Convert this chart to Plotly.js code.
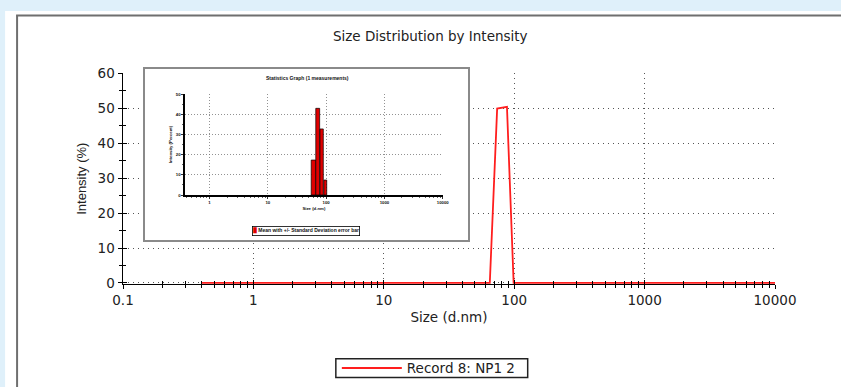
<!DOCTYPE html>
<html>
<head>
<meta charset="utf-8">
<script src="https://cdn.plot.ly/plotly-3.0.1.min.js"></script>
<style>
html,body{margin:0;padding:0;background:#dff0fa;}
#chart{width:841px;height:387px;}
</style>
</head>
<body>
<div id="chart"></div>
<script>
// ---- Main chart data (Size Distribution by Intensity) ----
const sizeNm = [0.4, 65, 74, 88, 99, 10000];
const intensityPct = [0, 0, 49.9, 50.4, 0, 0];
const seriesName = 'Record 8: NP1 2';

// ---- Inset statistics graph data ----
const statSizeNm = [61, 72, 84, 97];
const statIntensityPct = [17.3, 42.9, 32.7, 7.4];
const statLegendText = 'Mean with +/- Standard Deviation error bar';
const statTitle = 'Statistics Graph (1 measurements)';

// ---- geometry helpers (pixel -> paper) ----
const W = 841, H = 387, L = 123, R = 65.5, T = 69, B = 103;
const PW = W - L - R, PH = H - T - B;
const px = v => (v - L) / PW;
const py = v => (H - B - v) / PH;
const clamp = v => Math.max(0, Math.min(1, v));

const gridStyle = {showgrid: true, gridcolor: '#555', griddash: '1px,4px', gridwidth: 1};
const insetGrid = {showgrid: true, gridcolor: '#777', griddash: '1px,2px', gridwidth: 0.8};
const insetFont = {family: 'Liberation Sans, Arial, sans-serif', size: 4.3, color: '#111', weight: 'bold'};

const traces = [
  {
    type: 'scatter', mode: 'lines', name: seriesName,
    x: sizeNm, y: intensityPct, xaxis: 'x', yaxis: 'y',
    line: {color: '#ff1e1e', width: 1.8}
  },
  // overlay subplot carrying the inner halves of the crossing ticks
  {type: 'scatter', x: [], y: [], xaxis: 'x4', yaxis: 'y4', showlegend: false, hoverinfo: 'skip'},
  // inset frame subplot
  {type: 'scatter', x: [], y: [], xaxis: 'x2', yaxis: 'y2', showlegend: false, hoverinfo: 'skip'},
  {
    type: 'bar', name: statLegendText, x: statSizeNm, y: statIntensityPct,
    xaxis: 'x3', yaxis: 'y3', showlegend: false,
    marker: {color: '#e00000', line: {color: '#000', width: 0.7}}
  }
];

const layout = {
  width: W, height: H,
  margin: {l: L, r: R, t: T, b: B, pad: 0, autoexpand: false},
  paper_bgcolor: '#dff0fa', plot_bgcolor: '#ffffff',
  font: {family: 'DejaVu Sans, sans-serif', size: 13.5, color: '#222'},
  title: {
    text: 'Size Distribution by Intensity',
    font: {family: 'DejaVu Sans, sans-serif', size: 13.5, color: '#222'},
    xref: 'paper', x: px(430.5), xanchor: 'center',
    yref: 'container', y: 1 - 36 / H, yanchor: 'middle'
  },
  showlegend: true,
  legend: {
    x: px(337), xanchor: 'left', y: py(368.2), yanchor: 'middle',
    bgcolor: 'rgba(0,0,0,0)', borderwidth: 0,
    font: {family: 'DejaVu Sans, sans-serif', size: 13.5, color: '#222'},
    itemwidth: 60
  },
  bargap: 0,
  xaxis: Object.assign({
    type: 'log', range: [-1, 4], domain: [0, 1], anchor: 'y',
    showline: true, linecolor: '#000', linewidth: 1,
    ticks: 'outside', ticklen: 4, tickcolor: '#000', dtick: 1, tickformat: '~g',
    minor: {dtick: 'D1', ticks: 'outside', ticklen: 3, tickcolor: '#000', showgrid: false},
    zeroline: false, layer: 'below traces', ticklabelstandoff: 0,
    tickfont: {size: 13.5, color: '#222'},
    title: {text: 'Size (d.nm)', standoff: 5, font: {size: 13.5, color: '#222'}}
  }, gridStyle),
  yaxis: Object.assign({
    range: [-0.3, 60], domain: [0, clamp(py(73.3))], anchor: 'x',
    showline: true, linecolor: '#000', linewidth: 1.5,
    ticks: 'outside', ticklen: 4, tickcolor: '#000', tick0: 0, dtick: 10,
    minor: {tick0: 0, dtick: 5, ticks: 'outside', ticklen: 3, tickcolor: '#000', showgrid: false},
    zeroline: false,
    tickfont: {size: 13.5, color: '#222'},
    title: {text: 'Intensity (%)', standoff: 8, font: {family: 'Liberation Sans, Arial, sans-serif', size: 13, color: '#222'}}
  }, gridStyle),
  xaxis4: {
    type: 'log', overlaying: 'x', range: [-1, 4], anchor: 'y',
    ticks: 'inside', ticklen: 4, tickcolor: '#000', dtick: 1,
    minor: {dtick: 'D1', ticks: 'inside', ticklen: 3, tickcolor: '#000', showgrid: false},
    showticklabels: false, showgrid: false, zeroline: false, showline: false
  },
  yaxis4: {
    overlaying: 'y', range: [-0.3, 60], anchor: 'x', side: 'left',
    ticks: 'inside', ticklen: 4, tickcolor: '#000', tick0: 0, dtick: 10,
    minor: {tick0: 0, dtick: 5, ticks: 'inside', ticklen: 3, tickcolor: '#000', showgrid: false},
    showticklabels: false, showgrid: false, zeroline: false, showline: false
  },
  // inset frame
  xaxis2: {
    domain: [px(145), px(468)], range: [0, 1], anchor: 'y2',
    showline: true, mirror: true, linecolor: '#8a8a8a', linewidth: 2,
    showgrid: false, zeroline: false, showticklabels: false, ticks: ''
  },
  yaxis2: {
    domain: [clamp(py(240)), clamp(py(69))], range: [0, 1], anchor: 'x2',
    showline: true, mirror: true, linecolor: '#8a8a8a', linewidth: 2,
    showgrid: false, zeroline: false, showticklabels: false, ticks: ''
  },
  // inset plot
  xaxis3: Object.assign({
    type: 'log', domain: [px(185), px(443)], range: [Math.log10(0.38), 4], anchor: 'y3',
    showline: true, linecolor: '#000', linewidth: 1.5,
    ticks: 'outside', ticklen: 2, tickwidth: 0.8, tickcolor: '#000', dtick: 1, tickformat: '~g',
    minor: {dtick: 'D1', ticks: 'outside', ticklen: 1.5, tickwidth: 0.6, tickcolor: '#000', showgrid: false},
    zeroline: false, tickfont: insetFont,
    title: {text: 'Size (d.nm)', standoff: 3, font: insetFont}
  }, insetGrid),
  yaxis3: Object.assign({
    domain: [clamp(py(195)), clamp(py(94))], range: [0, 50], anchor: 'x3',
    showline: true, linecolor: '#000', linewidth: 1.5,
    ticks: 'outside', ticklen: 2, tickwidth: 0.8, tickcolor: '#000', dtick: 10,
    minor: {dtick: 5, ticks: 'outside', ticklen: 1.5, tickwidth: 0.6, tickcolor: '#000', showgrid: false},
    zeroline: false, tickfont: insetFont,
    title: {text: 'Intensity (Percent)', standoff: 3, font: insetFont}
  }, insetGrid),
  shapes: [
    {type: 'rect', xref: 'paper', yref: 'paper', layer: 'below',
     x0: px(5), x1: px(845), y0: py(390), y1: py(11),
     fillcolor: '#ffffff', line: {width: 0}},
    {type: 'line', xref: 'paper', yref: 'paper', layer: 'below',
     x0: px(16), x1: px(845), y0: py(15.5), y1: py(15.5),
     line: {color: '#6f6f6f', width: 2}},
    {type: 'line', xref: 'paper', yref: 'paper', layer: 'below',
     x0: px(17), x1: px(17), y0: py(15.5), y1: py(390),
     line: {color: '#6f6f6f', width: 2}},
    // frame around the legend
    {type: 'rect', xref: 'paper', yref: 'paper', layer: 'above',
     x0: px(336), x1: px(528), y0: py(377.5), y1: py(358.8),
     fillcolor: 'rgba(0,0,0,0)', line: {color: '#222', width: 1.5}}
  ],
  annotations: [
    {xref: 'paper', yref: 'paper', x: px(308), y: py(77.7), xanchor: 'center', yanchor: 'middle',
     showarrow: false, text: statTitle,
     font: {family: 'Liberation Sans, Arial, sans-serif', size: 5, color: '#111', weight: 'bold'}},
    {xref: 'paper', yref: 'paper', x: px(306.4), y: py(231), xanchor: 'center', yanchor: 'middle',
     showarrow: false,
     text: '<span style="color:#e00000">\u2588</span> ' + statLegendText,
     bgcolor: '#ffffff', bordercolor: '#000', borderwidth: 0.8, borderpad: 0.5,
     font: {family: 'Liberation Sans, Arial, sans-serif', size: 5, color: '#111', weight: 'bold'}}
  ]
};

Plotly.newPlot('chart', traces, layout, {staticPlot: true, displayModeBar: false});
</script>
</body>
</html>
